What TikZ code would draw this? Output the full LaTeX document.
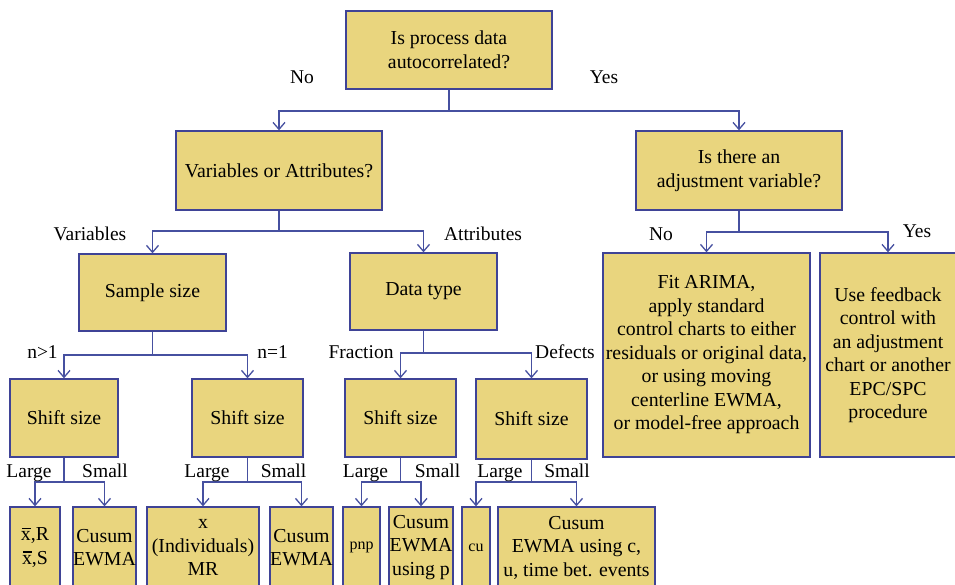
\documentclass[tikz,border=0pt]{standalone}
\usepackage{fontspec}
\setmainfont{Liberation Serif}
\usetikzlibrary{arrows.meta}
\definecolor{boxfill}{HTML}{E9D57E}
\definecolor{boxline}{HTML}{3F4396}
\definecolor{conncol}{HTML}{4650A0}
\newcommand\xbarsym{\leavevmode\makebox[0pt][l]{\hspace{0.8pt}\rule[11.5pt]{9pt}{1.3pt}}x}
\begin{document}
\begin{tikzpicture}[x=1pt,y=-1pt,
  box/.style={draw=boxline, fill=boxfill, line width=1.3pt, align=center, inner sep=0pt,
    font=\fontsize{19.8}{23.5}\selectfont},
  smallfont/.style={font=\fontsize{16}{20}\selectfont},
  arr/.style={draw=conncol, line width=1.3pt, -{Straight Barb[length=7pt,width=12pt]}},
  lbl/.style={font=\fontsize{19.5}{23.5}\selectfont, anchor=base, inner sep=0pt}]
\useasboundingbox (0,0) rectangle (955,584);
\clip (0,0) rectangle (955,584);

% top level
\node[box, minimum width=206pt, minimum height=78pt] (top) at (449,50) {Is process data\\autocorrelated?};
\node[box, minimum width=206pt, minimum height=79pt] (va) at (279,170.5) {Variables or Attributes?};
\node[box, minimum width=206pt, minimum height=79pt] (adj) at (739,170.5) {Is there an\\adjustment variable?};

% second level
\node[box, minimum width=147pt, minimum height=77pt] (ss) at (152.5,292.5) {Sample size};
\node[box, minimum width=147pt, minimum height=77pt] (dt) at (423.5,291.5) {Data type};
\node[box, minimum width=207pt, minimum height=204pt] (arima) at (706.5,355)
  {Fit ARIMA,\\apply standard\\control charts to either\\residuals or original data,\\or using moving\\centerline EWMA,\\or model-free approach};
\node[box, minimum width=136pt, minimum height=204pt] (fb) at (888,355)
  {Use feedback\\control with\\an adjustment\\chart or another\\EPC/SPC\\procedure};

% shift size
\node[box, minimum width=108pt, minimum height=78pt] (s1) at (64,418) {Shift size};
\node[box, minimum width=111pt, minimum height=78pt] (s2) at (247.5,418) {Shift size};
\node[box, minimum width=111pt, minimum height=78pt] (s3) at (400.5,418) {Shift size};
\node[box, minimum width=111pt, minimum height=80pt] (s4) at (531.5,419) {Shift size};

% bottom boxes
\node[box, minimum width=50pt, minimum height=81pt] (b1) at (35,547.5) {\xbarsym,R\\\xbarsym,S};
\node[box, minimum width=63pt, minimum height=81pt] (b2) at (104.5,547.5) {Cusum\\EWMA};
\node[box, minimum width=112pt, minimum height=81pt] (b3) at (203,547.5) {x\\(Individuals)\\MR};
\node[box, minimum width=63pt, minimum height=81pt] (b4) at (301.5,547.5) {Cusum\\EWMA};
\node[box, smallfont, minimum width=37pt, minimum height=81pt] (b5) at (361.5,547.5) {pnp};
\node[box, minimum width=64pt, minimum height=81pt] (b6) at (421,547.5) {Cusum\\EWMA\\using p};
\node[box, smallfont, minimum width=28pt, minimum height=81pt] (b7) at (476,547.5) {cu};
\node[box, minimum width=157pt, minimum height=81pt] (b8) at (576.5,547.5) {Cusum\\EWMA using c,\\u, time bet. events};

% junction levels
\coordinate (j0) at (0,111);
\coordinate (j1) at (0,231);
\coordinate (j2) at (0,232);
\coordinate (j3) at (0,355);
\coordinate (j4) at (0,353);
\coordinate (j5) at (0,482);

% connectors
\draw[arr] (top.south) |- (va.north |- j0) -- (va.north);
\draw[arr] (top.south) |- (adj.north |- j0) -- (adj.north);
\draw[arr] (va.south) |- (ss.north |- j1) -- (ss.north);
\draw[arr] (va.south) |- (dt.north |- j1) -- (dt.north);
\draw[arr] (adj.south) |- (arima.north |- j2) -- (arima.north);
\draw[arr] (adj.south) |- (fb.north |- j2) -- (fb.north);
\draw[arr] (ss.south) |- (s1.north |- j3) -- (s1.north);
\draw[arr] (ss.south) |- (s2.north |- j3) -- (s2.north);
\draw[arr] (dt.south) |- (s3.north |- j4) -- (s3.north);
\draw[arr] (dt.south) |- (s4.north |- j4) -- (s4.north);
\draw[arr] (s1.south) |- (b1.north |- j5) -- (b1.north);
\draw[arr] (s1.south) |- (b2.north |- j5) -- (b2.north);
\draw[arr] (s2.south) |- (b3.north |- j5) -- (b3.north);
\draw[arr] (s2.south) |- (b4.north |- j5) -- (b4.north);
\draw[arr] (s3.south) |- (b5.north |- j5) -- (b5.north);
\draw[arr] (s3.south) |- (b6.north |- j5) -- (b6.north);
\draw[arr] (s4.south) |- (b7.north |- j5) -- (b7.north);
\draw[arr] (s4.south) |- (b8.north |- j5) -- (b8.north);

% labels
\node[lbl] (lno1) at (302,83) {No};
\node[lbl] (lyes1) at (604,83) {Yes};
\node[lbl] (lvar) at (90,240) {Variables};
\node[lbl] (latt) at (483,240) {Attributes};
\node[lbl] (lno2) at (661,240) {No};
\node[lbl] (lyes2) at (917,237) {Yes};
\node[lbl] (ln1) at (42.5,358) {n>1};
\node[lbl] (ln2) at (272.5,358) {n=1};
\node[lbl] (lfr) at (361,358) {Fraction};
\node[lbl] (ldef) at (565,358) {Defects};
\node[lbl] (lL1) at (29,477) {Large};
\node[lbl] (lS1) at (105,477) {Small};
\node[lbl] (lL2) at (207,477) {Large};
\node[lbl] (lS2) at (283.5,477) {Small};
\node[lbl] (lL3) at (365.5,477) {Large};
\node[lbl] (lS3) at (437.5,477) {Small};
\node[lbl] (lL4) at (500,477) {Large};
\node[lbl] (lS4) at (567,477) {Small};
\end{tikzpicture}
\end{document}
